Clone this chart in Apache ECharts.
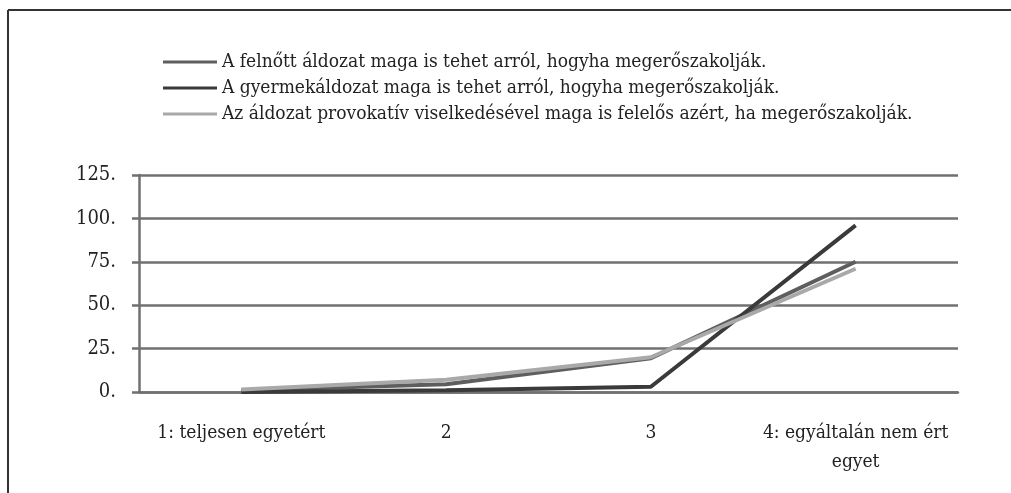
<!DOCTYPE html>
<html>
<head>
<meta charset="utf-8">
<script src="https://cdn.jsdelivr.net/npm/echarts@6/dist/echarts.min.js"></script>
<style>
  html, body { margin: 0; padding: 0; background: #fff; }
  #chart { width: 1011px; height: 493px; }
</style>
</head>
<body>
<div id="chart"></div>
<script>
  // kategóriák (x tengely)
  const categories = ['1: teljesen egyetért', '2', '3', '4: egyáltalán nem ért\negyet']
  const seriesNames = [
    'A felnőtt áldozat maga is tehet arról, hogyha megerőszakolják.',
    'A gyermekáldozat maga is tehet arról, hogyha megerőszakolják.',
    'Az áldozat provokatív viselkedésével maga is felelős azért, ha megerőszakolják.'
  ]
  const felnott = [1, 4.5, 19.5, 75]
  const gyermek = [0, 1, 3, 96]
  const provokativ = [1.5, 7, 20, 71]
  const yTicks = [0, 25, 50, 75, 100, 125]

  const colors = ['#5e5e5e', '#3a3a3a', '#a9a9a9']
  const serif = '"DejaVu Serif Condensed", "DejaVu Serif", serif'

  const chart = echarts.init(document.getElementById('chart'))
  chart.setOption({
    animation: false,
    color: colors,
    graphic: [
      // külső keret
      { type: 'line', shape: { x1: 8, y1: 10, x2: 1011, y2: 10 }, style: { stroke: '#333', lineWidth: 2 } },
      { type: 'line', shape: { x1: 8, y1: 10, x2: 8, y2: 493 }, style: { stroke: '#333', lineWidth: 2 } }
    ],
    legend: {
      orient: 'vertical',
      left: 158,
      top: 47,
      itemWidth: 54,
      itemHeight: 3,
      itemGap: 6,
      icon: 'rect',
      data: seriesNames,
      textStyle: { fontFamily: serif, fontSize: 19, lineHeight: 20, color: '#222' }
    },
    grid: {
      left: 139,
      right: 53,
      top: 175,
      bottom: 101
    },
    xAxis: {
      type: 'category',
      data: categories,
      boundaryGap: true,
      axisLine: { lineStyle: { color: '#707070', width: 2.5 } },
      axisTick: { show: false },
      axisLabel: {
        interval: 0,
        margin: 27,
        fontFamily: serif,
        fontSize: 19,
        color: '#222',
        lineHeight: 29
      }
    },
    yAxis: {
      type: 'value',
      min: yTicks[0],
      max: yTicks[yTicks.length - 1],
      interval: 25,
      axisLine: { show: true, lineStyle: { color: '#707070', width: 2.5 } },
      axisTick: { show: true, length: 7, lineStyle: { color: '#707070', width: 2.5 } },
      splitLine: { lineStyle: { color: '#707070', width: 2.5 } },
      axisLabel: {
        margin: 23,
        fontFamily: serif,
        fontSize: 20,
        color: '#222',
        formatter: '{value}.'
      }
    },
    series: [
      { name: seriesNames[0], type: 'line', data: felnott, showSymbol: false, lineStyle: { width: 4 } },
      { name: seriesNames[1], type: 'line', data: gyermek, showSymbol: false, lineStyle: { width: 4 } },
      { name: seriesNames[2], type: 'line', data: provokativ, showSymbol: false, lineStyle: { width: 4 } }
    ]
  })
</script>
</body>
</html>
